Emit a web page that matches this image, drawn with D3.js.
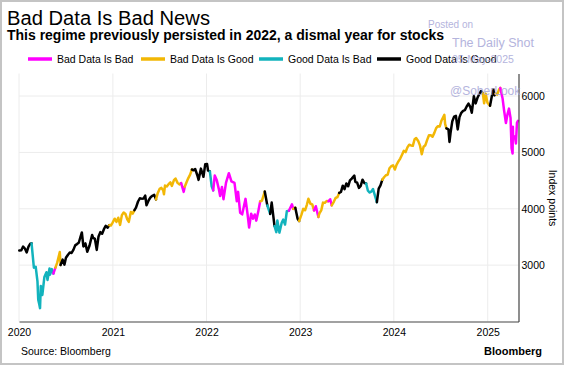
<!DOCTYPE html>
<html>
<head>
<meta charset="utf-8">
<script src="https://cdn.jsdelivr.net/npm/d3@7"></script>
<style>
  body { margin: 0; background: #fff; }
  svg text { font-family: "Liberation Sans", Arial, sans-serif; fill: #000; }
</style>
</head>
<body>
<div id="chart"></div>
<script>
// S&P 500 level (irregular dates, roughly weekly)
const dates = [
  "2020-01-02","2020-01-10","2020-01-17","2020-01-24","2020-01-31","2020-02-07","2020-02-14","2020-02-19","2020-02-28","2020-03-06",
  "2020-03-13","2020-03-16","2020-03-20","2020-03-23","2020-03-26","2020-04-01","2020-04-09","2020-04-17","2020-04-21","2020-04-29",
  "2020-05-01","2020-05-08","2020-05-14","2020-05-22","2020-05-29","2020-06-08","2020-06-11","2020-06-19","2020-06-26","2020-07-02",
  "2020-07-10","2020-07-17","2020-07-24","2020-07-31","2020-08-07","2020-08-14","2020-08-21","2020-08-28","2020-09-02","2020-09-08",
  "2020-09-16","2020-09-23","2020-10-02","2020-10-12","2020-10-16","2020-10-23","2020-10-30","2020-11-06","2020-11-13","2020-11-20",
  "2020-11-27","2020-12-04","2020-12-11","2020-12-18","2020-12-24","2020-12-31",
  "2021-01-08","2021-01-15","2021-01-22","2021-01-29","2021-02-05","2021-02-12","2021-02-19","2021-02-26","2021-03-04","2021-03-12",
  "2021-03-19","2021-03-26","2021-04-01","2021-04-09","2021-04-16","2021-04-23","2021-04-30","2021-05-07","2021-05-12","2021-05-21",
  "2021-05-28","2021-06-04","2021-06-11","2021-06-18","2021-06-25","2021-07-02","2021-07-09","2021-07-16","2021-07-19","2021-07-23",
  "2021-07-30","2021-08-06","2021-08-13","2021-08-19","2021-08-27","2021-09-02","2021-09-10","2021-09-17","2021-09-24","2021-10-04",
  "2021-10-08","2021-10-15","2021-10-22","2021-10-29","2021-11-05","2021-11-12","2021-11-18","2021-11-26","2021-12-01","2021-12-10",
  "2021-12-20","2021-12-27",
  "2022-01-03","2022-01-07","2022-01-14","2022-01-21","2022-01-27","2022-02-02","2022-02-10","2022-02-18","2022-02-23","2022-03-02",
  "2022-03-08","2022-03-18","2022-03-29","2022-04-08","2022-04-20","2022-04-29","2022-05-04","2022-05-12","2022-05-20","2022-06-02",
  "2022-06-10","2022-06-16","2022-06-24","2022-07-01","2022-07-08","2022-07-14","2022-07-22","2022-07-29","2022-08-05","2022-08-16",
  "2022-08-26","2022-09-06","2022-09-12","2022-09-23","2022-09-30","2022-10-04","2022-10-12","2022-10-21","2022-10-27","2022-11-03",
  "2022-11-10","2022-11-18","2022-11-30","2022-12-05","2022-12-13","2022-12-22","2022-12-28",
  "2023-01-06","2023-01-13","2023-01-20","2023-01-27","2023-02-02","2023-02-10","2023-02-17","2023-02-24","2023-03-03","2023-03-13",
  "2023-03-17","2023-03-24","2023-03-31","2023-04-07","2023-04-14","2023-04-21","2023-04-28","2023-05-04","2023-05-12","2023-05-19",
  "2023-05-26","2023-06-02","2023-06-09","2023-06-16","2023-06-23","2023-06-30","2023-07-07","2023-07-14","2023-07-21","2023-07-31",
  "2023-08-04","2023-08-11","2023-08-18","2023-08-25","2023-09-01","2023-09-08","2023-09-15","2023-09-22","2023-09-29","2023-10-06",
  "2023-10-12","2023-10-20","2023-10-27","2023-11-03","2023-11-10","2023-11-17","2023-11-24","2023-12-01","2023-12-08","2023-12-15",
  "2023-12-22","2023-12-29",
  "2024-01-05","2024-01-12","2024-01-19","2024-01-26","2024-02-02","2024-02-09","2024-02-16","2024-02-23","2024-03-01","2024-03-08",
  "2024-03-15","2024-03-22","2024-03-28","2024-04-05","2024-04-12","2024-04-19","2024-04-26","2024-05-03","2024-05-10","2024-05-17",
  "2024-05-24","2024-05-31","2024-06-07","2024-06-14","2024-06-21","2024-06-28","2024-07-05","2024-07-16","2024-07-19","2024-07-24",
  "2024-08-01","2024-08-05","2024-08-09","2024-08-16","2024-08-23","2024-08-30","2024-09-06","2024-09-13","2024-09-20","2024-09-27",
  "2024-10-04","2024-10-11","2024-10-18","2024-10-25","2024-10-31","2024-11-08","2024-11-15","2024-11-22","2024-11-29","2024-12-06",
  "2024-12-13","2024-12-18","2024-12-24","2024-12-31",
  "2025-01-10","2025-01-17","2025-01-23","2025-01-27","2025-01-31","2025-02-07","2025-02-14","2025-02-19","2025-02-28","2025-03-06",
  "2025-03-10","2025-03-13","2025-03-19","2025-03-25","2025-03-31","2025-04-04","2025-04-08","2025-04-09","2025-04-10","2025-04-17",
  "2025-04-21","2025-04-25","2025-04-29"
];

const values = [
  3258,3265,3330,3295,3226,3328,3380,3386,2954,2972,
  2711,2386,2305,2237,2630,2471,2790,2875,2737,2940,
  2831,2930,2852,2955,3044,3232,3002,3098,3009,3130,
  3185,3225,3216,3271,3351,3373,3397,3508,3580,3332,
  3385,3237,3348,3534,3484,3465,3270,3510,3585,3558,
  3638,3699,3663,3709,3703,3756,
  3824,3768,3841,3714,3887,3934,3907,3811,3768,3943,
  3913,3975,4020,4129,4185,4180,4181,4233,4063,4156,
  4204,4230,4247,4166,4281,4352,4370,4327,4258,4412,
  4395,4437,4468,4405,4509,4537,4459,4433,4455,4300,
  4391,4471,4545,4605,4697,4683,4705,4595,4513,4712,
  4568,4791,
  4796,4677,4663,4398,4326,4589,4504,4349,4225,4387,
  4170,4463,4631,4488,4460,4132,4300,3930,3901,4176,
  3901,3667,3912,3825,3899,3790,3962,4130,4145,4305,
  4058,3909,4110,3693,3585,3791,3577,3752,3807,3720,
  3956,3965,4080,3999,4019,3822,3783,
  3895,3999,3973,4071,4179,4090,4079,3970,4046,3855,
  3917,3971,4109,4105,4138,4133,4169,4061,4124,4191,
  4205,4282,4299,4410,4348,4450,4399,4505,4536,4589,
  4478,4464,4370,4406,4516,4457,4450,4320,4288,4308,
  4350,4224,4117,4358,4415,4514,4559,4595,4604,4719,
  4755,4770,
  4697,4784,4840,4891,4959,5027,5006,5089,5137,5124,
  5117,5234,5254,5204,5123,4967,5100,5128,5223,5303,
  5305,5278,5347,5431,5465,5460,5567,5667,5505,5427,
  5410,5186,5344,5554,5635,5648,5408,5626,5703,5738,
  5751,5815,5865,5808,5705,5996,5870,5969,6032,6090,
  6051,5872,6040,5882,
  5827,5997,6119,6012,6041,6026,6115,6144,5955,5739,
  5615,5522,5675,5777,5612,5074,4982,5457,5268,5283,
  5158,5525,5561
];

// regime in force from each start date
const regimeStarts = [
  "2020-01-01","2020-02-21","2020-05-18","2020-05-27","2020-06-15","2020-12-21","2021-03-28","2021-06-25","2021-10-04","2021-10-12",
  "2021-11-12","2022-01-20","2022-02-01","2022-08-03","2022-08-18","2022-09-06","2022-09-12","2022-09-24","2022-11-22","2022-12-12",
  "2022-12-20","2023-01-03","2023-02-27","2023-03-15","2023-04-28","2023-05-08","2023-06-05","2023-09-17","2023-11-01","2023-11-20",
  "2024-08-01","2024-12-15","2025-01-14","2025-02-05","2025-02-20"
];
const regimeKeys = [
  "GG","GB","BB","BG","GG","BG","GG","BG","BB","BG",
  "GG","GB","BB","BG","GG","GB","GG","GB","BB","BG",
  "GG","BG","BB","BG","BB","BG","GG","GB","GG","BG",
  "GG","BG","GG","BG","BB"
];

const legendKeys = ["BB", "BG", "GB", "GG"];
const legendLabels = ["Bad Data Is Bad", "Bad Data Is Good", "Good Data Is Bad", "Good Data Is Good"];
const legendColours = ["#ff00ff", "#f2b705", "#12b3bd", "#000000"];

const yTicks = [3000, 4000, 5000, 6000];
const xTicks = ["2020", "2021", "2022", "2023", "2024", "2025"];

const width = 564, height = 365;
const margin = {top: 73.5, right: 45.5, bottom: 43.5, left: 19};

const parse = d3.timeParse("%Y-%m-%d");
const colour = d3.scaleOrdinal().domain(legendKeys).range(legendColours);

let svg = d3.select("#chart")
            .append("svg")
            .attr("width", width)
            .attr("height", height);

svg.append("rect")
   .attr("x", 1).attr("y", 1)
   .attr("width", width - 2).attr("height", height - 2)
   .attr("fill", "#fff")
   .attr("stroke", "#c4c4c4")
   .attr("stroke-width", 2);

let x = d3.scaleTime()
          .domain([parse("2020-01-01"), parse("2025-05-01")])
          .range([margin.left, width - margin.right]);

let y = d3.scaleLinear()
          .domain([2000, 6400])
          .range([height - margin.bottom, margin.top]);

// gridlines
svg.append("g")
   .selectAll("line")
   .data(yTicks)
   .enter()
   .append("line")
   .attr("x1", x.range()[0]).attr("x2", x.range()[1])
   .attr("y1", d => y(d)).attr("y2", d => y(d))
   .attr("stroke", "#ececec");

svg.append("g")
   .selectAll("line")
   .data(xTicks)
   .enter()
   .append("line")
   .attr("x1", d => x(parse(d + "-01-01"))).attr("x2", d => x(parse(d + "-01-01")))
   .attr("y1", y.range()[1]).attr("y2", y.range()[0])
   .attr("stroke", "#ececec");

// series, split into runs of the same regime
let points = dates.map((d, i) => {
  let t = parse(d);
  let k = 0;
  regimeStarts.forEach((s, j) => { if (parse(s) <= t) k = j; });
  return {date: t, value: values[i], regime: regimeKeys[k]};
});

let runs = [];
points.forEach((p, i) => {
  let last = runs[runs.length - 1];
  if (!last || last.regime != p.regime) {
    let pts = i > 0 ? [points[i - 1], p] : [p];
    runs.push({regime: p.regime, pts: pts});
  } else {
    last.pts.push(p);
  }
});

let line = d3.line()
             .x(d => x(d.date))
             .y(d => y(d.value));

svg.append("g")
   .selectAll("path")
   .data(runs)
   .enter()
   .append("path")
   .attr("d", d => line(d.pts))
   .attr("fill", "none")
   .attr("stroke", d => colour(d.regime))
   .attr("stroke-width", 2.5)
   .attr("stroke-linejoin", "round")
   .attr("stroke-linecap", "round");

// axes
let xAxis = d3.axisBottom(x)
              .tickValues(xTicks.map(d => parse(d + "-01-01")))
              .tickFormat(d3.timeFormat("%Y"))
              .tickSize(0)
              .tickPadding(7);

svg.append("g")
   .attr("transform", `translate(0, ${y.range()[0]})`)
   .call(xAxis)
   .call(g => g.select(".domain").attr("stroke", "#444").attr("stroke-width", 1.2))
   .selectAll("text")
   .attr("font-size", 10.5)
   .attr("font-family", "Liberation Sans, Arial, sans-serif")
   .attr("fill", "#000");

let yAxis = d3.axisRight(y)
              .tickValues(yTicks)
              .tickFormat(d3.format("d"))
              .tickSize(0)
              .tickPadding(3);

svg.append("g")
   .attr("transform", `translate(${x.range()[1]}, 0)`)
   .call(yAxis)
   .call(g => g.select(".domain").attr("stroke", "#444").attr("stroke-width", 1.2))
   .selectAll("text")
   .attr("font-size", 10.5)
   .attr("font-family", "Liberation Sans, Arial, sans-serif")
   .attr("fill", "#000");

svg.append("text")
   .attr("transform", "translate(549, 198) rotate(90)")
   .attr("text-anchor", "middle")
   .attr("font-size", 10.5)
   .text("Index points");

// titles
svg.append("text")
   .attr("x", 7).attr("y", 25)
   .attr("font-family", "DejaVu Sans, sans-serif")
   .attr("font-size", 20)
   .attr("textLength", 203)
   .attr("lengthAdjust", "spacingAndGlyphs")
   .text("Bad Data Is Bad News");

svg.append("text")
   .attr("x", 7).attr("y", 40)
   .attr("font-family", "DejaVu Sans, sans-serif")
   .attr("font-size", 14)
   .attr("font-weight", "bold")
   .attr("textLength", 437)
   .attr("lengthAdjust", "spacingAndGlyphs")
   .text("This regime previously persisted in 2022, a dismal year for stocks");

// legend
const legendX = [28, 141, 259, 377];
let legend = svg.append("g")
                .selectAll("g")
                .data(legendLabels)
                .enter()
                .append("g")
                .attr("transform", (d, i) => `translate(${legendX[i]}, 59)`);

legend.append("line")
      .attr("x1", 0).attr("x2", 24)
      .attr("stroke", (d, i) => legendColours[i])
      .attr("stroke-width", 3.5);

legend.append("text")
      .attr("x", 29).attr("y", 3.8)
      .attr("font-size", 10.5)
      .text(d => d);

// footer
svg.append("text")
   .attr("x", 21).attr("y", 355)
   .attr("font-size", 10.5)
   .text("Source: Bloomberg");

svg.append("text")
   .attr("x", 542).attr("y", 355)
   .attr("text-anchor", "end")
   .attr("font-size", 11)
   .attr("font-weight", "bold")
   .text("Bloomberg");

// watermark (sits over the chart like the original stamp)
const wm = [
  {t: "Posted on", x: 428, y: 27.5, s: 10},
  {t: "The Daily Shot", x: 452, y: 47, s: 12.5},
  {t: "05-May-2025", x: 452, y: 63, s: 10.5},
  {t: "@SoberLook", x: 450, y: 95, s: 12}
];
svg.append("g")
   .selectAll("text")
   .data(wm)
   .enter()
   .append("text")
   .attr("x", d => d.x).attr("y", d => d.y)
   .attr("font-size", d => d.s)
   .style("fill", "#a8a8d8")
   .style("opacity", 0.85)
   .text(d => d.t);
</script>
</body>
</html>
